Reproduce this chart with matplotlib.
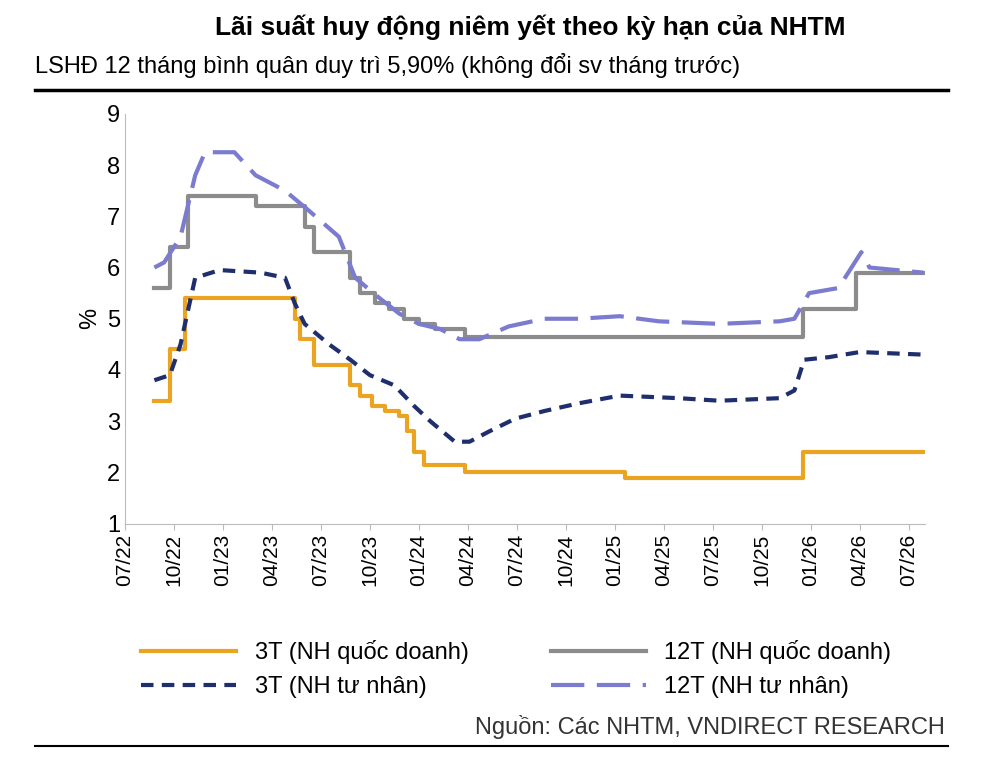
import matplotlib
matplotlib.use("Agg")
import matplotlib.pyplot as plt

plt.rcParams['font.family'] = ['Liberation Sans', 'DejaVu Sans']

# month index: 0 = 07/2022
tick_labels = ["07/22", "10/22", "01/23", "04/23", "07/23", "10/23", "01/24", "04/24",
               "07/24", "10/24", "01/25", "04/25", "07/25", "10/25", "01/26", "04/26", "07/26"]

m_3t_state = [1.8, 2.75, 3.7, 10.4, 10.7, 11.6, 13.8, 14.4, 15.1, 15.9, 16.8, 17.3, 17.7, 18.3, 20.8, 30.6, 41.5, 48.9]
v_3t_state = [3.4, 4.4, 5.4, 5.0, 4.6, 4.1, 3.7, 3.5, 3.3, 3.2, 3.1, 2.8, 2.4, 2.15, 2.0, 1.9, 2.4, 2.4]

m_12t_state = [1.8, 2.75, 3.85, 8.0, 11.0, 11.6, 13.8, 14.4, 15.3, 16.2, 17.1, 18.0, 19.0, 20.8, 41.5, 44.8, 48.9]
v_12t_state = [5.6, 6.4, 7.4, 7.2, 6.8, 6.3, 5.8, 5.5, 5.3, 5.2, 5.0, 4.9, 4.8, 4.65, 5.2, 5.9, 5.9]

m_3t_priv = [1.8, 2.75, 3.4, 4.3, 5.8, 8.3, 9.8, 10.4, 11.0, 12.5, 13.8, 15.0, 16.5, 17.7, 18.7, 20.2,
             21.1, 22.3, 23.9, 25.7, 27.8, 30.3, 33.9, 36.4, 40.1, 41.0, 41.6, 43.1, 45.0, 48.9]
v_3t_priv = [3.8, 3.9, 4.5, 5.8, 5.95, 5.9, 5.8, 5.3, 4.9, 4.5, 4.2, 3.9, 3.7, 3.3, 3.0, 2.6,
             2.6, 2.8, 3.05, 3.2, 3.35, 3.5, 3.45, 3.4, 3.45, 3.6, 4.2, 4.25, 4.35, 4.3]

m_12t_priv = [1.8, 2.4, 3.4, 4.3, 4.9, 6.7, 8.0, 9.8, 11.3, 13.1, 14.1, 15.6, 16.8, 18.0, 19.3, 20.5,
              21.7, 23.5, 25.7, 27.8, 30.3, 32.7, 36.4, 40.1, 41.0, 41.9, 43.7, 45.1, 45.6, 48.9]
v_12t_priv = [6.0, 6.1, 6.6, 7.8, 8.25, 8.25, 7.8, 7.5, 7.1, 6.6, 5.8, 5.4, 5.1, 4.9, 4.8, 4.6,
              4.6, 4.85, 5.0, 5.0, 5.05, 4.95, 4.9, 4.95, 5.0, 5.5, 5.6, 6.3, 6.0, 5.9]

fig = plt.figure(figsize=(10, 7.69), dpi=100)
ax = fig.add_axes([0.125, 0.319, 0.8, 0.533])

ax.plot(m_3t_state, v_3t_state, drawstyle="steps-post", color="#EBA421", lw=3, label="3T (NH quốc doanh)")
ax.plot(m_12t_state, v_12t_state, drawstyle="steps-post", color="#8C8C8C", lw=3, label="12T (NH quốc doanh)")
ax.plot(m_3t_priv, v_3t_priv, color="#1F2F6E", lw=3, ls=(0, (3, 2)), label="3T (NH tư nhân)")
ax.plot(m_12t_priv, v_12t_priv, color="#7B7BD0", lw=3, ls=(0, (8, 3)), label="12T (NH tư nhân)")

ax.set_xlim(0, 49)
ax.set_ylim(1, 9)
ax.set_xticks(range(0, 49, 3))
ax.set_xticklabels(tick_labels, rotation=90, fontsize=15)
ax.tick_params(axis="y", labelsize=17, length=0)
ax.tick_params(axis="x", length=4, color="#BBBBBB")
ax.set_ylabel("%", fontsize=17)
for s in ("top", "right"):
    ax.spines[s].set_visible(False)
for s in ("left", "bottom"):
    ax.spines[s].set_color("#BBBBBB")

handles, labels = ax.get_legend_handles_labels()
order = [0, 2, 1, 3]
fig.legend([handles[i] for i in order], [labels[i] for i in order], loc="upper left",
           bbox_to_anchor=(0.12, 0.195), ncol=2, frameon=False, fontsize=17,
           handlelength=4.0, columnspacing=3.5, labelspacing=0.5)

fig.text(0.53, 0.965, "Lãi suất huy động niêm yết theo kỳ hạn của NHTM", ha="center",
         va="center", fontsize=19, fontweight="bold")
fig.text(0.035, 0.915, "LSHĐ 12 tháng bình quân duy trì 5,90% (không đổi sv tháng trước)",
         ha="left", va="center", fontsize=17)
fig.text(0.945, 0.055, "Nguồn: Các NHTM, VNDIRECT RESEARCH", ha="right", va="center",
         fontsize=17, color="#333333")
fig.add_artist(plt.Line2D([0.035, 0.948], [0.883, 0.883], color="black", lw=2.5))
fig.add_artist(plt.Line2D([0.035, 0.948], [0.03, 0.03], color="black", lw=1.5))

fig.savefig("out.png")
